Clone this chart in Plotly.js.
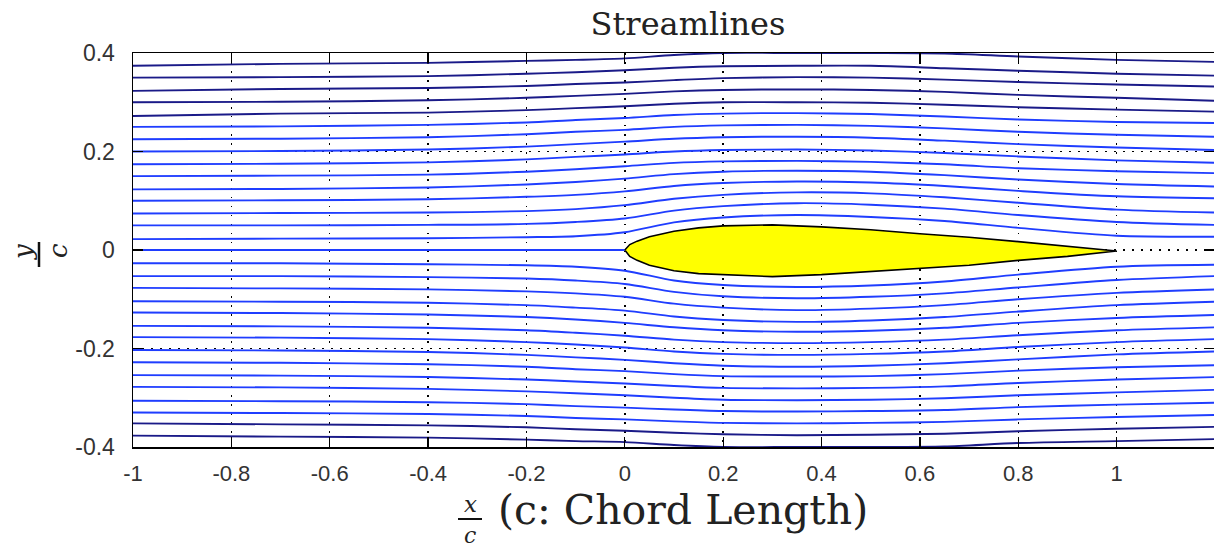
<!DOCTYPE html>
<html>
<head>
<meta charset="utf-8">
<script src="https://cdn.plot.ly/plotly-3.0.1.min.js"></script>
<style>
html,body{margin:0;padding:0;background:#fff;overflow:hidden;}
#chart{width:1216px;height:548px;}
</style>
</head>
<body>
<div id="chart"></div>
<script>
// ---------------- data ----------------
// x positions (x/c) at which each streamline's y/c was read
const xCols = [-1, -0.7, -0.4, -0.2, -0.1, 0, 0.1, 0.2, 0.35, 0.5, 0.65, 0.8, 1.0, 1.2];

// streamlines above the airfoil (from the stagnation line outwards)
const upperLines = [
  [0.022, 0.023, 0.024, 0.026, 0.028, 0.036, 0.056, 0.066, 0.071, 0.067, 0.059, 0.045, 0.029, 0.027],
  [0.050, 0.050, 0.051, 0.053, 0.057, 0.064, 0.080, 0.089, 0.095, 0.092, 0.084, 0.071, 0.057, 0.051],
  [0.074, 0.075, 0.076, 0.079, 0.083, 0.091, 0.104, 0.112, 0.117, 0.115, 0.107, 0.096, 0.082, 0.076],
  [0.100, 0.101, 0.103, 0.108, 0.112, 0.119, 0.130, 0.136, 0.139, 0.137, 0.130, 0.120, 0.109, 0.105],
  [0.123, 0.124, 0.127, 0.133, 0.138, 0.145, 0.154, 0.159, 0.161, 0.159, 0.152, 0.143, 0.134, 0.129],
  [0.150, 0.151, 0.153, 0.159, 0.164, 0.170, 0.177, 0.180, 0.181, 0.179, 0.174, 0.166, 0.160, 0.156],
  [0.174, 0.175, 0.178, 0.184, 0.189, 0.194, 0.200, 0.203, 0.204, 0.202, 0.197, 0.190, 0.182, 0.177],
  [0.200, 0.201, 0.204, 0.210, 0.215, 0.220, 0.226, 0.229, 0.230, 0.228, 0.222, 0.215, 0.208, 0.203],
  [0.225, 0.226, 0.229, 0.235, 0.240, 0.244, 0.250, 0.253, 0.254, 0.252, 0.247, 0.240, 0.234, 0.230],
  [0.250, 0.251, 0.254, 0.259, 0.264, 0.268, 0.274, 0.277, 0.278, 0.276, 0.271, 0.265, 0.260, 0.258],
  [0.272, 0.277, 0.279, 0.284, 0.288, 0.292, 0.297, 0.300, 0.300, 0.299, 0.295, 0.290, 0.285, 0.281],
  [0.300, 0.301, 0.304, 0.309, 0.313, 0.317, 0.322, 0.325, 0.326, 0.325, 0.321, 0.315, 0.309, 0.303],
  [0.323, 0.327, 0.329, 0.333, 0.337, 0.340, 0.345, 0.349, 0.351, 0.350, 0.346, 0.341, 0.336, 0.332],
  [0.350, 0.351, 0.353, 0.358, 0.361, 0.365, 0.370, 0.373, 0.374, 0.374, 0.369, 0.364, 0.358, 0.354],
  [0.374, 0.378, 0.380, 0.384, 0.386, 0.389, 0.396, 0.400, 0.400, 0.400, 0.399, 0.393, 0.386, 0.382]
];

// streamlines below the airfoil (from the stagnation line outwards)
const lowerLines = [
  [-0.027, -0.027, -0.029, -0.031, -0.034, -0.042, -0.062, -0.071, -0.075, -0.072, -0.064, -0.050, -0.034, -0.030],
  [-0.053, -0.053, -0.055, -0.058, -0.062, -0.069, -0.085, -0.094, -0.098, -0.095, -0.088, -0.076, -0.061, -0.053],
  [-0.077, -0.078, -0.080, -0.084, -0.088, -0.095, -0.109, -0.117, -0.122, -0.119, -0.112, -0.100, -0.087, -0.080],
  [-0.104, -0.105, -0.107, -0.112, -0.117, -0.123, -0.135, -0.142, -0.146, -0.143, -0.136, -0.125, -0.112, -0.105],
  [-0.127, -0.128, -0.131, -0.136, -0.141, -0.148, -0.157, -0.163, -0.166, -0.164, -0.158, -0.148, -0.138, -0.132],
  [-0.154, -0.155, -0.158, -0.163, -0.168, -0.174, -0.182, -0.187, -0.189, -0.187, -0.182, -0.173, -0.163, -0.157],
  [-0.177, -0.178, -0.181, -0.187, -0.192, -0.198, -0.206, -0.211, -0.213, -0.211, -0.206, -0.197, -0.187, -0.181],
  [-0.203, -0.204, -0.207, -0.213, -0.218, -0.223, -0.230, -0.235, -0.237, -0.235, -0.230, -0.222, -0.212, -0.206],
  [-0.228, -0.229, -0.232, -0.237, -0.242, -0.246, -0.252, -0.256, -0.257, -0.256, -0.252, -0.245, -0.238, -0.234],
  [-0.254, -0.255, -0.258, -0.263, -0.267, -0.271, -0.276, -0.280, -0.281, -0.280, -0.277, -0.270, -0.263, -0.258],
  [-0.278, -0.279, -0.282, -0.287, -0.291, -0.295, -0.300, -0.304, -0.305, -0.304, -0.301, -0.295, -0.289, -0.284],
  [-0.306, -0.307, -0.309, -0.313, -0.317, -0.320, -0.324, -0.327, -0.328, -0.327, -0.325, -0.319, -0.314, -0.310],
  [-0.330, -0.331, -0.333, -0.337, -0.341, -0.344, -0.348, -0.351, -0.352, -0.351, -0.349, -0.344, -0.339, -0.335],
  [-0.352, -0.354, -0.356, -0.360, -0.364, -0.367, -0.371, -0.374, -0.376, -0.375, -0.373, -0.368, -0.363, -0.359],
  [-0.377, -0.379, -0.381, -0.385, -0.388, -0.390, -0.396, -0.400, -0.400, -0.400, -0.399, -0.392, -0.388, -0.384]
];

// number of outermost streamlines drawn in dark navy (top / bottom)
const navyTop = 5;
const navyBottom = 2;

// stagnation streamline ahead of the leading edge
const stagX = [-1, 0];
const stagY = [0, 0];

// airfoil outline
const foilX     = [0, 0.01, 0.025, 0.05, 0.1, 0.15, 0.2, 0.3, 0.4, 0.5, 0.6, 0.7, 0.8, 0.9, 1.0];
const foilUpper = [0, 0.011, 0.018, 0.027, 0.038, 0.045, 0.049, 0.051, 0.047, 0.041, 0.033, 0.026, 0.017, 0.008, -0.002];
const foilLower = [0, -0.013, -0.021, -0.031, -0.042, -0.048, -0.051, -0.054, -0.050, -0.044, -0.037, -0.031, -0.021, -0.013, -0.002];

// ticks
const xTicks = [-1, -0.8, -0.6, -0.4, -0.2, 0, 0.2, 0.4, 0.6, 0.8, 1];
const xTickText = ['-1', '-0.8', '-0.6', '-0.4', '-0.2', '0', '0.2', '0.4', '0.6', '0.8', '1'];
const yTicks = [-0.4, -0.2, 0, 0.2, 0.4];
const yTickText = ['-0.4', '-0.2', '0', '0.2', '0.4'];

// ---------------- figure ----------------
const BLUE = '#1f3dff';
const NAVY = '#1a1a88';
const LW = 1.9;

const traces = [];
upperLines.forEach((ys, i) => {
  traces.push({x: xCols, y: ys, mode: 'lines', type: 'scatter', hoverinfo: 'skip',
    line: {color: i >= upperLines.length - navyTop ? NAVY : BLUE, width: LW, shape: 'spline', smoothing: 0.8}});
});
lowerLines.forEach((ys, i) => {
  traces.push({x: xCols, y: ys, mode: 'lines', type: 'scatter', hoverinfo: 'skip',
    line: {color: i >= lowerLines.length - navyBottom ? NAVY : BLUE, width: LW, shape: 'spline', smoothing: 0.8}});
});
traces.push({x: stagX, y: stagY, mode: 'lines', type: 'scatter', hoverinfo: 'skip',
  line: {color: BLUE, width: LW}});

// airfoil closed outline: upper surface LE->TE then lower surface TE->LE
const outlineX = foilX.concat(foilX.slice().reverse());
const outlineY = foilUpper.concat(foilLower.slice().reverse());
traces.push({x: outlineX, y: outlineY, mode: 'lines', type: 'scatter', fill: 'toself',
  fillcolor: '#ffff00', hoverinfo: 'skip', line: {color: '#000', width: 1.6}});

// layout geometry (pixels)
const W = 1216, H = 548, ML = 133, MR = 1, MT = 53, MB = 101;
const PW = W - ML - MR, PH = H - MT - MB;
const px = v => (v - ML) / PW;            // pixel x -> paper x
const py = v => (H - MB - v) / PH;        // pixel y -> paper y

const serif = 'DejaVu Serif, Liberation Serif, serif';
const axisCommon = {
  ticks: 'inside', ticklen: 10, tickwidth: 1.2, tickcolor: '#000',
  showline: true, linecolor: '#000', linewidth: 1.5, mirror: 'ticks',
  showgrid: true, gridcolor: '#000', gridwidth: 1.4, griddash: '1.5px,7.5px',
  zeroline: false,
  tickfont: {family: 'Liberation Sans, Arial, sans-serif', size: 22, color: '#333'}
};

const layout = {
  width: W, height: H,
  margin: {l: ML, r: MR, t: MT, b: MB, pad: 0},
  paper_bgcolor: '#fff', plot_bgcolor: '#fff',
  showlegend: false,
  title: {text: 'Streamlines', font: {family: serif, size: 32, color: '#222'},
          xref: 'paper', x: px(688), xanchor: 'center',
          yref: 'container', y: 1 - 24 / H, yanchor: 'middle'},
  xaxis: Object.assign({}, axisCommon, {range: [-1, 1.2], tickvals: xTicks, ticktext: xTickText,
          ticklabelstandoff: 6}),
  yaxis: Object.assign({}, axisCommon, {range: [-0.4, 0.4], tickvals: yTicks, ticktext: yTickText,
          ticklabelstandoff: 12, tickfont: {family: 'Liberation Sans, Arial, sans-serif', size: 23, color: '#333'}}),
  annotations: [
    {text: '(c: Chord Length)', xref: 'paper', yref: 'paper', x: px(683.5), y: py(510),
     xanchor: 'center', yanchor: 'middle', showarrow: false,
     font: {family: serif, size: 41, color: '#222'}},
    {text: '<i>x</i>', xref: 'paper', yref: 'paper', x: px(470), y: py(504),
     xanchor: 'center', yanchor: 'middle', showarrow: false,
     font: {family: serif, size: 23, color: '#222'}},
    {text: '<i>c</i>', xref: 'paper', yref: 'paper', x: px(470), y: py(535),
     xanchor: 'center', yanchor: 'middle', showarrow: false,
     font: {family: serif, size: 22, color: '#222'}},
    {text: '<i>y</i>', xref: 'paper', yref: 'paper', x: px(23), y: py(252), textangle: -90,
     xanchor: 'center', yanchor: 'middle', showarrow: false,
     font: {family: serif, size: 26, color: '#222'}},
    {text: '<i>c</i>', xref: 'paper', yref: 'paper', x: px(58), y: py(251), textangle: -90,
     xanchor: 'center', yanchor: 'middle', showarrow: false,
     font: {family: serif, size: 26, color: '#222'}}
  ],
  shapes: [
    {type: 'line', xref: 'paper', yref: 'paper', x0: px(458), x1: px(482), y0: py(519), y1: py(519),
     line: {color: '#111', width: 2}},
    {type: 'line', xref: 'paper', yref: 'paper', x0: px(39), x1: px(39), y0: py(242), y1: py(267),
     line: {color: '#111', width: 2.5}}
  ]
};

Plotly.newPlot('chart', traces, layout, {staticPlot: true, displayModeBar: false});
</script>
</body>
</html>
